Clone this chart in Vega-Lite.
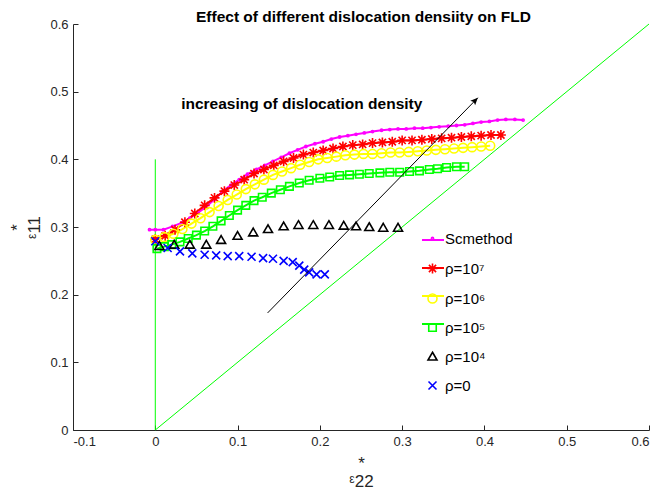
{
  "$schema": "https://vega.github.io/schema/vega-lite/v6.json",
  "width": 576,
  "height": 406,
  "autosize": {"type": "none"},
  "padding": {"left": 73, "top": 24, "right": 19, "bottom": 62},
  "background": "white",
  "config": {
    "view": {"stroke": null},
    "font": "Liberation Sans",
    "axis": {
      "grid": false,
      "domainColor": "#262626",
      "tickColor": "#262626",
      "labelColor": "#262626",
      "titleColor": "#262626",
      "labelFont": "Liberation Sans",
      "labelFontSize": 13,
      "titleFont": "Liberation Sans, DejaVu Sans",
      "titleFontWeight": "normal",
      "titleFontSize": 17,
      "tickSize": -5,
      "domainWidth": 1,
      "tickWidth": 1
    }
  },
  "datasets": {
    "ref": [
      {"g": "diag", "x": 0, "y": 0},
      {"g": "diag", "x": 0.6, "y": 0.6},
      {"g": "vert", "x": 0, "y": 0},
      {"g": "vert", "x": 0, "y": 0.4}
    ],
    "arrow": [
      {"x": 0.1365, "y": 0.173},
      {"x": 0.392, "y": 0.491}
    ],
    "head": [
      {"x": 0.392, "y": 0.491}
    ],
    "note": [
      {"x": 0.178, "y": 0.482, "label": "increasing of dislocation density"}
    ],
    "ttl": [
      {"x": 0.253, "y": 0.6035, "label": "Effect of different dislocation densiity on FLD"}
    ],
    "pts": [
      {"s": "Scmethod", "x": -0.007, "y": 0.296},
      {"s": "Scmethod", "x": 0.0, "y": 0.296},
      {"s": "Scmethod", "x": 0.01, "y": 0.296},
      {"s": "Scmethod", "x": 0.021, "y": 0.301},
      {"s": "Scmethod", "x": 0.032, "y": 0.306},
      {"s": "Scmethod", "x": 0.042, "y": 0.313},
      {"s": "Scmethod", "x": 0.052, "y": 0.321},
      {"s": "Scmethod", "x": 0.062, "y": 0.33},
      {"s": "Scmethod", "x": 0.072, "y": 0.341},
      {"s": "Scmethod", "x": 0.082, "y": 0.353},
      {"s": "Scmethod", "x": 0.092, "y": 0.362},
      {"s": "Scmethod", "x": 0.102, "y": 0.37},
      {"s": "Scmethod", "x": 0.112, "y": 0.378},
      {"s": "Scmethod", "x": 0.123, "y": 0.385},
      {"s": "Scmethod", "x": 0.133, "y": 0.391},
      {"s": "Scmethod", "x": 0.143, "y": 0.397},
      {"s": "Scmethod", "x": 0.153, "y": 0.403},
      {"s": "Scmethod", "x": 0.163, "y": 0.409},
      {"s": "Scmethod", "x": 0.173, "y": 0.414},
      {"s": "Scmethod", "x": 0.183, "y": 0.419},
      {"s": "Scmethod", "x": 0.194, "y": 0.423},
      {"s": "Scmethod", "x": 0.204, "y": 0.426},
      {"s": "Scmethod", "x": 0.214, "y": 0.43},
      {"s": "Scmethod", "x": 0.224, "y": 0.433},
      {"s": "Scmethod", "x": 0.234, "y": 0.435},
      {"s": "Scmethod", "x": 0.244, "y": 0.437},
      {"s": "Scmethod", "x": 0.254, "y": 0.439},
      {"s": "Scmethod", "x": 0.264, "y": 0.441},
      {"s": "Scmethod", "x": 0.275, "y": 0.443},
      {"s": "Scmethod", "x": 0.285, "y": 0.444},
      {"s": "Scmethod", "x": 0.295, "y": 0.445},
      {"s": "Scmethod", "x": 0.305, "y": 0.445},
      {"s": "Scmethod", "x": 0.315, "y": 0.446},
      {"s": "Scmethod", "x": 0.325, "y": 0.446},
      {"s": "Scmethod", "x": 0.335, "y": 0.447},
      {"s": "Scmethod", "x": 0.345, "y": 0.448},
      {"s": "Scmethod", "x": 0.356, "y": 0.449},
      {"s": "Scmethod", "x": 0.366, "y": 0.45},
      {"s": "Scmethod", "x": 0.376, "y": 0.451},
      {"s": "Scmethod", "x": 0.386, "y": 0.453},
      {"s": "Scmethod", "x": 0.396, "y": 0.455},
      {"s": "Scmethod", "x": 0.406, "y": 0.456},
      {"s": "Scmethod", "x": 0.416, "y": 0.458},
      {"s": "Scmethod", "x": 0.426, "y": 0.459},
      {"s": "Scmethod", "x": 0.437, "y": 0.459},
      {"s": "Scmethod", "x": 0.447, "y": 0.458},

      {"s": "ρ=10⁷", "x": 0.0, "y": 0.282},
      {"s": "ρ=10⁷", "x": 0.012, "y": 0.287},
      {"s": "ρ=10⁷", "x": 0.024, "y": 0.296},
      {"s": "ρ=10⁷", "x": 0.036, "y": 0.307},
      {"s": "ρ=10⁷", "x": 0.048, "y": 0.32},
      {"s": "ρ=10⁷", "x": 0.06, "y": 0.332},
      {"s": "ρ=10⁷", "x": 0.072, "y": 0.343},
      {"s": "ρ=10⁷", "x": 0.084, "y": 0.353},
      {"s": "ρ=10⁷", "x": 0.096, "y": 0.362},
      {"s": "ρ=10⁷", "x": 0.108, "y": 0.37},
      {"s": "ρ=10⁷", "x": 0.12, "y": 0.379},
      {"s": "ρ=10⁷", "x": 0.132, "y": 0.385},
      {"s": "ρ=10⁷", "x": 0.144, "y": 0.391},
      {"s": "ρ=10⁷", "x": 0.156, "y": 0.397},
      {"s": "ρ=10⁷", "x": 0.168, "y": 0.402},
      {"s": "ρ=10⁷", "x": 0.18, "y": 0.407},
      {"s": "ρ=10⁷", "x": 0.192, "y": 0.41},
      {"s": "ρ=10⁷", "x": 0.204, "y": 0.413},
      {"s": "ρ=10⁷", "x": 0.216, "y": 0.416},
      {"s": "ρ=10⁷", "x": 0.228, "y": 0.419},
      {"s": "ρ=10⁷", "x": 0.24, "y": 0.421},
      {"s": "ρ=10⁷", "x": 0.252, "y": 0.422},
      {"s": "ρ=10⁷", "x": 0.264, "y": 0.424},
      {"s": "ρ=10⁷", "x": 0.276, "y": 0.425},
      {"s": "ρ=10⁷", "x": 0.288, "y": 0.426},
      {"s": "ρ=10⁷", "x": 0.3, "y": 0.428},
      {"s": "ρ=10⁷", "x": 0.312, "y": 0.428},
      {"s": "ρ=10⁷", "x": 0.324, "y": 0.429},
      {"s": "ρ=10⁷", "x": 0.336, "y": 0.43},
      {"s": "ρ=10⁷", "x": 0.348, "y": 0.431},
      {"s": "ρ=10⁷", "x": 0.36, "y": 0.432},
      {"s": "ρ=10⁷", "x": 0.372, "y": 0.433},
      {"s": "ρ=10⁷", "x": 0.384, "y": 0.434},
      {"s": "ρ=10⁷", "x": 0.396, "y": 0.435},
      {"s": "ρ=10⁷", "x": 0.408, "y": 0.436},
      {"s": "ρ=10⁷", "x": 0.42, "y": 0.436},

      {"s": "ρ=10⁶", "x": 0.0, "y": 0.281},
      {"s": "ρ=10⁶", "x": 0.011, "y": 0.285},
      {"s": "ρ=10⁶", "x": 0.022, "y": 0.29},
      {"s": "ρ=10⁶", "x": 0.033, "y": 0.297},
      {"s": "ρ=10⁶", "x": 0.044, "y": 0.305},
      {"s": "ρ=10⁶", "x": 0.055, "y": 0.313},
      {"s": "ρ=10⁶", "x": 0.066, "y": 0.322},
      {"s": "ρ=10⁶", "x": 0.077, "y": 0.331},
      {"s": "ρ=10⁶", "x": 0.088, "y": 0.34},
      {"s": "ρ=10⁶", "x": 0.099, "y": 0.348},
      {"s": "ρ=10⁶", "x": 0.11, "y": 0.356},
      {"s": "ρ=10⁶", "x": 0.121, "y": 0.363},
      {"s": "ρ=10⁶", "x": 0.132, "y": 0.37},
      {"s": "ρ=10⁶", "x": 0.143, "y": 0.377},
      {"s": "ρ=10⁶", "x": 0.154, "y": 0.382},
      {"s": "ρ=10⁶", "x": 0.165, "y": 0.387},
      {"s": "ρ=10⁶", "x": 0.176, "y": 0.392},
      {"s": "ρ=10⁶", "x": 0.187, "y": 0.396},
      {"s": "ρ=10⁶", "x": 0.198, "y": 0.4},
      {"s": "ρ=10⁶", "x": 0.209, "y": 0.402},
      {"s": "ρ=10⁶", "x": 0.22, "y": 0.404},
      {"s": "ρ=10⁶", "x": 0.231, "y": 0.406},
      {"s": "ρ=10⁶", "x": 0.242, "y": 0.407},
      {"s": "ρ=10⁶", "x": 0.253, "y": 0.408},
      {"s": "ρ=10⁶", "x": 0.264, "y": 0.408},
      {"s": "ρ=10⁶", "x": 0.275, "y": 0.409},
      {"s": "ρ=10⁶", "x": 0.286, "y": 0.41},
      {"s": "ρ=10⁶", "x": 0.297, "y": 0.41},
      {"s": "ρ=10⁶", "x": 0.308, "y": 0.411},
      {"s": "ρ=10⁶", "x": 0.319, "y": 0.412},
      {"s": "ρ=10⁶", "x": 0.33, "y": 0.413},
      {"s": "ρ=10⁶", "x": 0.341, "y": 0.414},
      {"s": "ρ=10⁶", "x": 0.352, "y": 0.415},
      {"s": "ρ=10⁶", "x": 0.363, "y": 0.416},
      {"s": "ρ=10⁶", "x": 0.374, "y": 0.417},
      {"s": "ρ=10⁶", "x": 0.385, "y": 0.418},
      {"s": "ρ=10⁶", "x": 0.396, "y": 0.419},
      {"s": "ρ=10⁶", "x": 0.407, "y": 0.42},

      {"s": "ρ=10⁵", "x": 0.002, "y": 0.268},
      {"s": "ρ=10⁵", "x": 0.011, "y": 0.271},
      {"s": "ρ=10⁵", "x": 0.02, "y": 0.274},
      {"s": "ρ=10⁵", "x": 0.03, "y": 0.278},
      {"s": "ρ=10⁵", "x": 0.04, "y": 0.283},
      {"s": "ρ=10⁵", "x": 0.05, "y": 0.288},
      {"s": "ρ=10⁵", "x": 0.06, "y": 0.294},
      {"s": "ρ=10⁵", "x": 0.07, "y": 0.301},
      {"s": "ρ=10⁵", "x": 0.08, "y": 0.309},
      {"s": "ρ=10⁵", "x": 0.09, "y": 0.317},
      {"s": "ρ=10⁵", "x": 0.1, "y": 0.325},
      {"s": "ρ=10⁵", "x": 0.11, "y": 0.332},
      {"s": "ρ=10⁵", "x": 0.12, "y": 0.339},
      {"s": "ρ=10⁵", "x": 0.13, "y": 0.344},
      {"s": "ρ=10⁵", "x": 0.141, "y": 0.35},
      {"s": "ρ=10⁵", "x": 0.152, "y": 0.355},
      {"s": "ρ=10⁵", "x": 0.163, "y": 0.36},
      {"s": "ρ=10⁵", "x": 0.175, "y": 0.365},
      {"s": "ρ=10⁵", "x": 0.187, "y": 0.369},
      {"s": "ρ=10⁵", "x": 0.2, "y": 0.372},
      {"s": "ρ=10⁵", "x": 0.212, "y": 0.374},
      {"s": "ρ=10⁵", "x": 0.224, "y": 0.376},
      {"s": "ρ=10⁵", "x": 0.236, "y": 0.377},
      {"s": "ρ=10⁵", "x": 0.248, "y": 0.378},
      {"s": "ρ=10⁵", "x": 0.26, "y": 0.379},
      {"s": "ρ=10⁵", "x": 0.273, "y": 0.38},
      {"s": "ρ=10⁵", "x": 0.285, "y": 0.381},
      {"s": "ρ=10⁵", "x": 0.297, "y": 0.381},
      {"s": "ρ=10⁵", "x": 0.309, "y": 0.382},
      {"s": "ρ=10⁵", "x": 0.321, "y": 0.383},
      {"s": "ρ=10⁵", "x": 0.333, "y": 0.385},
      {"s": "ρ=10⁵", "x": 0.343, "y": 0.386},
      {"s": "ρ=10⁵", "x": 0.354, "y": 0.388},
      {"s": "ρ=10⁵", "x": 0.366, "y": 0.389},
      {"s": "ρ=10⁵", "x": 0.376, "y": 0.389},

      {"s": "ρ=10⁴", "x": 0.005, "y": 0.272},
      {"s": "ρ=10⁴", "x": 0.023, "y": 0.274},
      {"s": "ρ=10⁴", "x": 0.042, "y": 0.274},
      {"s": "ρ=10⁴", "x": 0.062, "y": 0.274},
      {"s": "ρ=10⁴", "x": 0.08, "y": 0.281},
      {"s": "ρ=10⁴", "x": 0.1, "y": 0.287},
      {"s": "ρ=10⁴", "x": 0.119, "y": 0.292},
      {"s": "ρ=10⁴", "x": 0.137, "y": 0.297},
      {"s": "ρ=10⁴", "x": 0.156, "y": 0.301},
      {"s": "ρ=10⁴", "x": 0.174, "y": 0.303},
      {"s": "ρ=10⁴", "x": 0.192, "y": 0.303},
      {"s": "ρ=10⁴", "x": 0.211, "y": 0.303},
      {"s": "ρ=10⁴", "x": 0.229, "y": 0.302},
      {"s": "ρ=10⁴", "x": 0.244, "y": 0.301},
      {"s": "ρ=10⁴", "x": 0.26, "y": 0.3},
      {"s": "ρ=10⁴", "x": 0.277, "y": 0.299},
      {"s": "ρ=10⁴", "x": 0.295, "y": 0.299},

      {"s": "ρ=0", "x": 0.0, "y": 0.279},
      {"s": "ρ=0", "x": 0.015, "y": 0.269},
      {"s": "ρ=0", "x": 0.03, "y": 0.264},
      {"s": "ρ=0", "x": 0.045, "y": 0.261},
      {"s": "ρ=0", "x": 0.06, "y": 0.259},
      {"s": "ρ=0", "x": 0.074, "y": 0.258},
      {"s": "ρ=0", "x": 0.088, "y": 0.257},
      {"s": "ρ=0", "x": 0.102, "y": 0.257},
      {"s": "ρ=0", "x": 0.117, "y": 0.256},
      {"s": "ρ=0", "x": 0.131, "y": 0.254},
      {"s": "ρ=0", "x": 0.143, "y": 0.253},
      {"s": "ρ=0", "x": 0.156, "y": 0.25},
      {"s": "ρ=0", "x": 0.167, "y": 0.248},
      {"s": "ρ=0", "x": 0.175, "y": 0.243},
      {"s": "ρ=0", "x": 0.181, "y": 0.237},
      {"s": "ρ=0", "x": 0.187, "y": 0.233},
      {"s": "ρ=0", "x": 0.196, "y": 0.23},
      {"s": "ρ=0", "x": 0.206, "y": 0.23}
    ]
  },
  "layer": [
    {
      "data": {"name": "ref"},
      "mark": {"type": "line", "color": "#00FF00", "strokeWidth": 1},
      "encoding": {
        "x": {"field": "x", "type": "quantitative", "scale": {"domain": [-0.1, 0.6], "nice": false, "zero": false},
          "axis": {
            "values": [-0.1, 0, 0.1, 0.2, 0.3, 0.4, 0.5, 0.6],
            "labelExpr": "replace(format(datum.value, '.1~f'), '\u2212', '-')",
            "labelPadding": 10,
            "title": ["*", "ᵋ22"],
            "titleLineHeight": 18,
            "titlePadding": 7
          }
        },
        "y": {"field": "y", "type": "quantitative", "scale": {"domain": [0, 0.6], "nice": false, "zero": false},
          "axis": {
            "values": [0, 0.1, 0.2, 0.3, 0.4, 0.5, 0.6],
            "labelExpr": "format(datum.value, '.1~f')",
            "labelPadding": 10,
            "title": ["*", "ᵋ11"],
            "titleLineHeight": 17,
            "titlePadding": 6
          }
        },
        "detail": {"field": "g"}
      }
    },
    {
      "data": {"name": "pts"},
      "transform": [{"filter": {"field": "s", "oneOf": ["Scmethod", "ρ=10⁷", "ρ=10⁶", "ρ=10⁵"]}}],
      "mark": {"type": "line", "strokeWidth": 2},
      "encoding": {
        "x": {"field": "x", "type": "quantitative"},
        "y": {"field": "y", "type": "quantitative"},
        "color": {"field": "s", "type": "nominal",
          "scale": {"domain": ["Scmethod", "ρ=10⁷", "ρ=10⁶", "ρ=10⁵", "ρ=10⁴", "ρ=0"],
                    "range": ["#FF00FF", "#FF0000", "#FFFF00", "#00FF00", "#000000", "#0000FF"]}},
        "opacity": {"field": "s", "type": "nominal",
          "scale": {"domain": ["Scmethod", "ρ=10⁷", "ρ=10⁶", "ρ=10⁵"], "range": [1, 1]},
          "legend": {
            "title": null,
            "orient": "none",
            "legendX": 348,
            "legendY": 204,
            "padding": 0,
            "symbolType": "stroke",
            "symbolSize": 484,
            "symbolStrokeWidth": 2,
            "labelFontSize": 15,
            "labelExpr": "''",
            "rowPadding": 8,
            "encode": {
              "symbols": {"update": {"stroke": {"signal": "scale('color', datum.value)"}, "strokeWidth": {"value": 2}, "opacity": {"value": 1}}}
            }
          }
        }
      }
    },
    {
      "data": {"name": "pts"},
      "mark": {"type": "point", "filled": false, "strokeWidth": 1.6, "opacity": 1, "size": 100},
      "encoding": {
        "x": {"field": "x", "type": "quantitative"},
        "y": {"field": "y", "type": "quantitative"},
        "color": {"field": "s", "type": "nominal",
          "scale": {"domain": ["Scmethod", "ρ=10⁷", "ρ=10⁶", "ρ=10⁵", "ρ=10⁴", "ρ=0"],
                    "range": ["#FF00FF", "#FF0000", "#FFFF00", "#00FF00", "#000000", "#0000FF"]},
          "legend": {
            "title": null,
            "orient": "none",
            "legendX": 352,
            "legendY": 207,
            "padding": 0,
            "labelFont": "Liberation Sans",
            "labelFontSize": 15,
            "labelColor": "#000000",
            "labelOffset": 5,
            "rowPadding": 13,
            "symbolSize": 100,
            "symbolStrokeWidth": 1.6
          }
        },
        "shape": {"field": "s", "type": "nominal",
          "scale": {"domain": ["Scmethod", "ρ=10⁷", "ρ=10⁶", "ρ=10⁵", "ρ=10⁴", "ρ=0"],
                    "range": [
                      "M-0.22,0A0.22,0.22 0 1,0 0.22,0A0.22,0.22 0 1,0 -0.22,0Z",
                      "M-1,0L1,0M0,-1L0,1M-0.72,-0.72L0.72,0.72M-0.72,0.72L0.72,-0.72",
                      "M-0.9,0A0.9,0.9 0 1,0 0.9,0A0.9,0.9 0 1,0 -0.9,0Z",
                      "M-0.75,-0.75L0.75,-0.75L0.75,0.75L-0.75,0.75Z",
                      "M0,-0.85L0.9,0.7L-0.9,0.7Z",
                      "M-0.8,-0.8L0.8,0.8M-0.8,0.8L0.8,-0.8"
                    ]}}
      }
    },
    {
      "data": {"name": "arrow"},
      "mark": {"type": "line", "color": "#000000", "strokeWidth": 1},
      "encoding": {
        "x": {"field": "x", "type": "quantitative"},
        "y": {"field": "y", "type": "quantitative"}
      }
    },
    {
      "data": {"name": "head"},
      "mark": {"type": "point", "shape": "M0,0L-0.55,1.2L0,0.95L0.55,1.2Z", "filled": true, "color": "#000000", "opacity": 1, "size": 150, "angle": 44.3},
      "encoding": {
        "x": {"field": "x", "type": "quantitative"},
        "y": {"field": "y", "type": "quantitative"}
      }
    },
    {
      "data": {"name": "note"},
      "mark": {"type": "text", "font": "Liberation Sans", "fontSize": 15.5, "fontWeight": "bold", "color": "#000000", "align": "center", "baseline": "middle"},
      "encoding": {
        "x": {"field": "x", "type": "quantitative"},
        "y": {"field": "y", "type": "quantitative"},
        "text": {"field": "label"}
      }
    },
    {
      "data": {"name": "ttl"},
      "mark": {"type": "text", "font": "Liberation Sans", "fontSize": 15.5, "fontWeight": "bold", "color": "#000000", "align": "center", "baseline": "alphabetic", "clip": false},
      "encoding": {
        "x": {"field": "x", "type": "quantitative"},
        "y": {"field": "y", "type": "quantitative"},
        "text": {"field": "label"}
      }
    }
  ]
}
